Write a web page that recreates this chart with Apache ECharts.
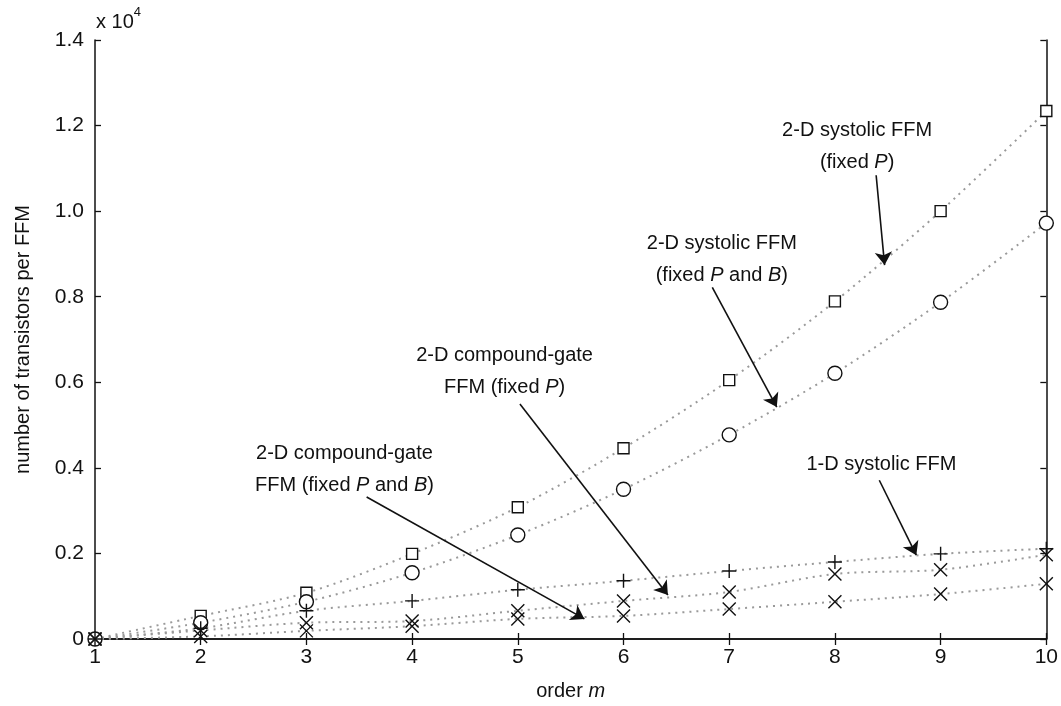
<!DOCTYPE html>
<html>
<head>
<meta charset="utf-8">
<script src="https://cdn.jsdelivr.net/npm/echarts@6/dist/echarts.min.js"></script>
<style>
html,body{margin:0;padding:0;background:#fff;}
#c{width:1061px;height:706px;}
</style>
</head>
<body>
<div id="c"></div>
<script>
// ---- data (number of transistors) ----
const orders = [1, 2, 3, 4, 5, 6, 7, 8, 9, 10];
const systolic2DFixedP = [0, 540, 1080, 1990, 3080, 4460, 6050, 7890, 10000, 12340];
const systolic2DFixedPB = [0, 380, 870, 1550, 2430, 3500, 4770, 6210, 7870, 9720];
const systolic1D = [0, 250, 660, 890, 1150, 1360, 1590, 1800, 1990, 2110];
const compound2DFixedP = [0, 200, 380, 420, 660, 890, 1100, 1520, 1620, 1970];
const compound2DFixedPB = [0, 60, 190, 300, 470, 540, 700, 870, 1050, 1290];
const xTicks = [1, 2, 3, 4, 5, 6, 7, 8, 9, 10];
const yTickLabels = ['0', '0.2', '0.4', '0.6', '0.8', '1.0', '1.2', '1.4'];

// annotation layout (data coordinates: order, transistors)
const annotations = [
  {text: '{n|2-D systolic FFM}\n{n|(fixed }{i|P}{n|)}', at: [8.21, 11520], from: [8.39, 10840], to: [8.47, 8740]},
  {text: '{n|2-D systolic FFM}\n{n|(fixed }{i|P}{n| and }{i|B}{n|)}', at: [6.93, 8880], from: [6.84, 8220], to: [7.45, 5420]},
  {text: '{n|2-D compound-gate}\n{n|FFM (fixed }{i|P}{n|)}', at: [4.875, 6260], from: [5.02, 5490], to: [6.42, 1030]},
  {text: '{n|2-D compound-gate}\n{n|FFM (fixed }{i|P}{n| and }{i|B}{n|)}', at: [3.36, 3970], from: [3.57, 3320], to: [5.63, 470]},
  {text: '{n|1-D systolic FFM}', at: [8.44, 4090], from: [8.42, 3710], to: [8.77, 1960]}
];

const FONT = '"Liberation Sans", Arial, Helvetica, sans-serif';
const plusPath = 'path://M0,5L10,5M5,0L5,10';
const crossPath = 'path://M0,0L10,10M10,0L0,10';

function pts(arr) { return orders.map((o, i) => [o, arr[i]]); }

function mkSeries(name, arr, symbol, size) {
  return {
    name: name,
    type: 'line',
    data: pts(arr),
    smooth: 0.3,
    symbol: symbol,
    symbolSize: size,
    showAllSymbol: true,
    lineStyle: {color: '#9a9a9a', width: 2, type: [2, 5]},
    itemStyle: {color: '#fff', borderColor: '#111', borderWidth: 1.4},
    z: 3,
    animation: false
  };
}

const series = [
  mkSeries('2-D systolic FFM (fixed P)', systolic2DFixedP, 'rect', 11),
  mkSeries('2-D systolic FFM (fixed P and B)', systolic2DFixedPB, 'circle', 14),
  mkSeries('1-D systolic FFM', systolic1D, plusPath, 14),
  mkSeries('2-D compound-gate FFM (fixed P)', compound2DFixedP, crossPath, 13),
  mkSeries('2-D compound-gate FFM (fixed P and B)', compound2DFixedPB, crossPath, 13),
  {
    type: 'line',
    data: [],
    silent: true,
    animation: false,
    markLine: {
      silent: true,
      animation: false,
      symbol: ['none', 'arrow'],
      symbolSize: 13,
      label: {show: false},
      lineStyle: {color: '#111', width: 1.6, type: 'solid'},
      itemStyle: {color: '#111'},
      data: annotations.map(a => [{coord: a.from}, {coord: a.to}])
    },
    markPoint: {
      silent: true,
      animation: false,
      symbol: 'circle',
      symbolSize: 0,
      itemStyle: {color: 'rgba(0,0,0,0)'},
      label: {
        show: true,
        position: 'inside',
        align: 'center',
        verticalAlign: 'middle',
        color: '#111',
        lineHeight: 32,
        rich: {
          n: {fontFamily: FONT, fontSize: 20, color: '#111', lineHeight: 32},
          i: {fontFamily: FONT, fontSize: 20, fontStyle: 'italic', color: '#111', lineHeight: 32}
        }
      },
      data: annotations.map(a => ({coord: a.at, label: {formatter: a.text}}))
    }
  }
];

const axisLineStyle = {lineStyle: {color: '#111', width: 1.5}};
const chart = echarts.init(document.getElementById('c'), null, {renderer: 'canvas'});
chart.setOption({
  backgroundColor: '#fff',
  animation: false,
  grid: {left: 95, right: 14, top: 40, bottom: 67, containLabel: false},
  xAxis: [{
    type: 'value', min: 1, max: 10, interval: 1, position: 'bottom',
    axisLine: axisLineStyle,
    axisTick: {show: true, inside: true, length: 6, lineStyle: {color: '#111', width: 1.3}},
    splitLine: {show: false},
    axisLabel: {color: '#111', fontFamily: FONT, fontSize: 21, margin: 8,
      formatter: v => (xTicks.indexOf(v) >= 0 ? String(v) : '')},
    name: '{n|order }{i|m}',
    nameLocation: 'middle',
    nameGap: 42,
    nameTextStyle: {rich: {
      n: {fontFamily: FONT, fontSize: 20, color: '#111'},
      i: {fontFamily: FONT, fontSize: 20, fontStyle: 'italic', color: '#111'}
    }}
  }, {
    type: 'value', min: 1, max: 10, interval: 1, position: 'top',
    axisLine: axisLineStyle,
    axisTick: {show: true, inside: true, length: 6, lineStyle: {color: '#111', width: 1.3}},
    splitLine: {show: false},
    axisLabel: {show: false}
  }],
  yAxis: [{
    type: 'value', min: 0, max: 14000, interval: 2000, position: 'left',
    axisLine: {show: true, lineStyle: {color: '#111', width: 1.5}},
    axisTick: {show: true, inside: true, length: 6, lineStyle: {color: '#111', width: 1.3}},
    splitLine: {show: false},
    axisLabel: {color: '#111', fontFamily: FONT, fontSize: 21, margin: 11,
      formatter: v => yTickLabels[Math.round(v / 2000)] || ''},
    name: 'number of transistors per FFM',
    nameLocation: 'middle',
    nameGap: 62,
    nameTextStyle: {fontFamily: FONT, fontSize: 20, color: '#111'}
  }, {
    type: 'value', min: 0, max: 14000, interval: 2000, position: 'right',
    axisLine: {show: true, lineStyle: {color: '#111', width: 1.5}},
    axisTick: {show: true, inside: true, length: 6, lineStyle: {color: '#111', width: 1.3}},
    splitLine: {show: false},
    axisLabel: {show: false}
  }],
  graphic: [{
    type: 'text', left: 96, top: 6,
    style: {
      text: '{a|x 10}{s|4}',
      rich: {
        a: {fontFamily: FONT, fontSize: 20, fill: '#111', lineHeight: 26, verticalAlign: 'bottom'},
        s: {fontFamily: FONT, fontSize: 13, fill: '#111', lineHeight: 26, verticalAlign: 'top', padding: [0, 0, 12, 0]}
      }
    }
  }],
  series: series
});
</script>
</body>
</html>
